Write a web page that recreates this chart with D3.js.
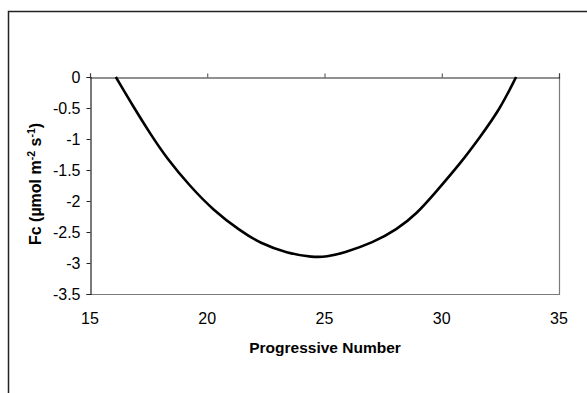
<!DOCTYPE html>
<html>
<head>
<meta charset="utf-8">
<script src="https://cdn.jsdelivr.net/npm/d3@7"></script>
<style>
  html, body { margin: 0; padding: 0; background: #fff; }
  svg { display: block; }
  text { font-family: "Liberation Sans", Arial, sans-serif; fill: #000; }
</style>
</head>
<body>
<svg id="chart" width="587" height="393"></svg>
<script>
// Flux curve along the progressive number
const progressive = [16.1, 16.85, 17.56, 18.27, 19.26, 20.26, 21.4, 22.25, 23.39, 24.52, 25.09, 25.8, 27.08, 28.08, 28.93, 29.78, 30.78, 31.63, 32.48, 33.17];
const fc = [0, -0.48, -0.91, -1.31, -1.76, -2.15, -2.48, -2.68, -2.84, -2.91, -2.9, -2.84, -2.67, -2.46, -2.21, -1.84, -1.4, -0.97, -0.52, 0];
const xTicks = [15, 20, 25, 30, 35];
const yTicks = [0, -0.5, -1, -1.5, -2, -2.5, -3, -3.5];

const svg = d3.select("#chart");
const W = 587, H = 393;
const plot = { left: 90, top: 77, right: 559, bottom: 294 };

// outer chart frame (left and top edges visible)
svg.append("rect").attr("x", 0).attr("y", 0).attr("width", W).attr("height", H).attr("fill", "#fff");
svg.append("path")
  .attr("d", `M8.5,${H}V11.5H${W}`)
  .attr("fill", "none").attr("stroke", "#222").attr("stroke-width", 1.5);

const x = d3.scaleLinear().domain([15, 35]).range([plot.left, plot.right]);
const y = d3.scaleLinear().domain([-3.5, 0]).range([plot.bottom, plot.top]);

// plot-area border (right and bottom)
svg.append("path")
  .attr("d", `M${plot.left},${plot.bottom + 0.5}H${plot.right + 0.5}V${plot.top}`)
  .attr("fill", "none").attr("stroke", "#7a7a7a").attr("stroke-width", 1.2);

// y axis with tick labels on the left
const yAxis = svg.append("g")
  .attr("transform", `translate(${plot.left + 0.5},0)`)
  .call(d3.axisLeft(y).tickValues(yTicks).tickSize(4).tickPadding(6).tickFormat(d => String(d)));
yAxis.select(".domain").attr("stroke", "#222").attr("stroke-width", 1.2);
yAxis.selectAll(".tick line").attr("stroke", "#222");
yAxis.selectAll(".tick text").style("font-size", "16px").attr("font-family", null);

// x axis crosses at Fc = 0; ticks point upward, labels sit below the plot
const xAxis = svg.append("g")
  .attr("transform", `translate(0,${y(0) + 0.5})`)
  .call(d3.axisTop(x).tickValues(xTicks).tickSize(4).tickFormat(() => ""));
xAxis.select(".domain").attr("stroke", "#222").attr("stroke-width", 1.2);
xAxis.selectAll(".tick line").attr("stroke", "#444");

svg.append("g").selectAll("text")
  .data(xTicks).join("text")
  .attr("x", d => x(d))
  .attr("y", 324)
  .attr("text-anchor", "middle")
  .style("font-size", "16px")
  .text(d => d);

// flux curve
const pts = progressive.map((p, i) => [p, fc[i]]);
svg.append("path")
  .datum(pts)
  .attr("fill", "none")
  .attr("stroke", "#000")
  .attr("stroke-width", 2.6)
  .attr("stroke-linejoin", "round")
  .attr("d", d3.line().x(d => x(d[0])).y(d => y(d[1])).curve(d3.curveBasis));

// axis titles
svg.append("text")
  .attr("x", 325)
  .attr("y", 353)
  .attr("text-anchor", "middle")
  .style("font-size", "15.5px").style("font-weight", "bold")
  .text("Progressive Number");

const yt = svg.append("text")
  .attr("transform", `translate(41,184) rotate(-90)`)
  .attr("text-anchor", "middle")
  .style("font-size", "16px").style("font-weight", "bold");
yt.append("tspan").text("Fc (µmol m");
yt.append("tspan").attr("dy", -6).style("font-size", "10.5px").text("-2");
yt.append("tspan").attr("dy", 6).text(" s");
yt.append("tspan").attr("dy", -6).style("font-size", "10.5px").text("-1");
yt.append("tspan").attr("dy", 6).text(")");
</script>
</body>
</html>
